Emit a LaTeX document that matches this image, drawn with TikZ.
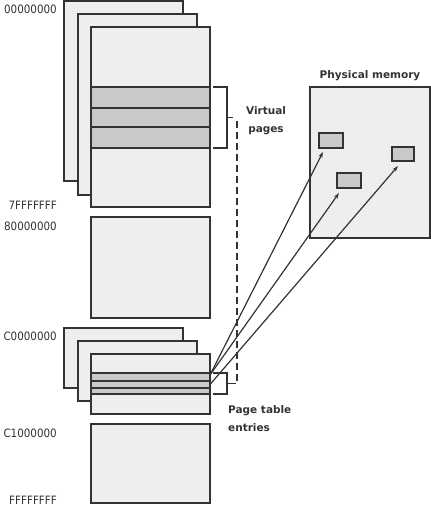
\documentclass[tikz,border=0pt]{standalone}
\usepackage{fontspec}
\setmainfont{DejaVu Sans}
\newfontfamily\hexfont{DejaVu Sans Condensed}
\usetikzlibrary{arrows.meta,calc}
\definecolor{edge}{HTML}{333333}
\definecolor{pagefill}{HTML}{EEEEEE}
\definecolor{bandfill}{HTML}{C8C9CB}

\begin{document}
\begin{tikzpicture}[
  x=1pt, y=-1pt,
  >={Stealth[length=6pt,width=4pt]},
  page/.style={draw=edge, fill=pagefill, line width=1.3pt, inner sep=0pt, outer sep=0pt, anchor=north west},
  band/.style={page, fill=bandfill, minimum width=119pt},
  frame/.style={page, fill=bandfill},
  hex/.style={anchor=base east, inner sep=0pt, font=\hexfont\fontsize{11.5}{14}\selectfont, text=edge},
  lbl/.style={font=\bfseries\fontsize{10.5}{18}\selectfont, text=edge, inner sep=0pt},
  brk/.style={draw=edge, line width=1.3pt},
  map/.style={draw=edge, line width=1.2pt, ->},
]
\useasboundingbox (0,0) rectangle (431,507);

% user space: stacked page tables at 00000000
\foreach \n/\x/\y/\h in {ua/64/1/180, ub/78/14/181, uc/91/27/180}
  \node[page, minimum width=119pt, minimum height=\h pt] (\n) at (\x,\y) {};
\foreach \n/\y/\h in {vp1/87/21, vp2/108/19, vp3/127/21}
  \node[band, minimum height=\h pt] (\n) at (91,\y) {};

% system space
\node[page, minimum width=119pt, minimum height=101pt] (sys) at (91,217) {};

% page table area at C0000000
\foreach \n/\x/\y in {pa/64/328, pb/78/341, pc/91/354}
  \node[page, minimum width=119pt, minimum height=60pt] (\n) at (\x,\y) {};
\foreach \n/\y/\h in {pt1/373/8, pt2/381/7, pt3/388/6}
  \node[band, minimum height=\h pt] (\n) at (91,\y) {};

% upper system space
\node[page, minimum width=119pt, minimum height=79pt] (hyp) at (91,424) {};

% address labels
\foreach \t/\y in {00000000/13, 7FFFFFFF/209, 80000000/230, C0000000/340, C1000000/437, FFFFFFFF/504}
  \node[hex] (a\t) at (57,\y) {\t};

% physical memory with three frames
\node[page, minimum width=120pt, minimum height=151pt] (phys) at (310,87) {};
\node[lbl, anchor=base] (physlbl) at (370,78) {Physical memory};
\node[frame, minimum width=24pt, minimum height=15pt] (f1) at (319,133) {};
\node[frame, minimum width=24pt, minimum height=15pt] (f2) at (337,173) {};
\node[frame, minimum width=22pt, minimum height=14pt] (f3) at (392,147) {};

% mappings
\draw[map] ([yshift=2pt]pt1.east) -- ([shift={(4,4)}]f1.south west);
\draw[map] ([yshift=2pt]pt1.east) -- ([shift={(2,5)}]f2.south west);
\draw[map] (pt2.east) -- ([shift={(6,5)}]f3.south west);

% brackets
\draw[brk] ([xshift=3pt]vp1.north east) -| ([xshift=17pt]vp3.south east) -- ([xshift=3pt]vp3.south east);
\draw[brk] ([xshift=3pt]pt1.north east) -| ([xshift=17pt]pt3.south east) -- ([xshift=3pt]pt3.south east);
\coordinate (vmid) at ($(vp1.north east)!.5!(vp3.south east)+(17,0)$);
\coordinate (pmid) at ($(pt1.north east)!.5!(pt3.south east)+(17,0)$);
\draw[brk] (vmid) -- ++(6,0);
\draw[brk] (pmid) -- ++(6,0);
\draw[brk, dash pattern=on 7pt off 4pt] ([xshift=10pt,yshift=-3pt]vmid) -- ([xshift=10pt]pmid) -- ([xshift=6pt]pmid);

\node[lbl, align=center] (vplbl) at (266,121) {Virtual\\pages};
\node[lbl, align=left, anchor=north west] (ptlbl) at (228,405) {Page table\\entries};
\end{tikzpicture}
\end{document}
